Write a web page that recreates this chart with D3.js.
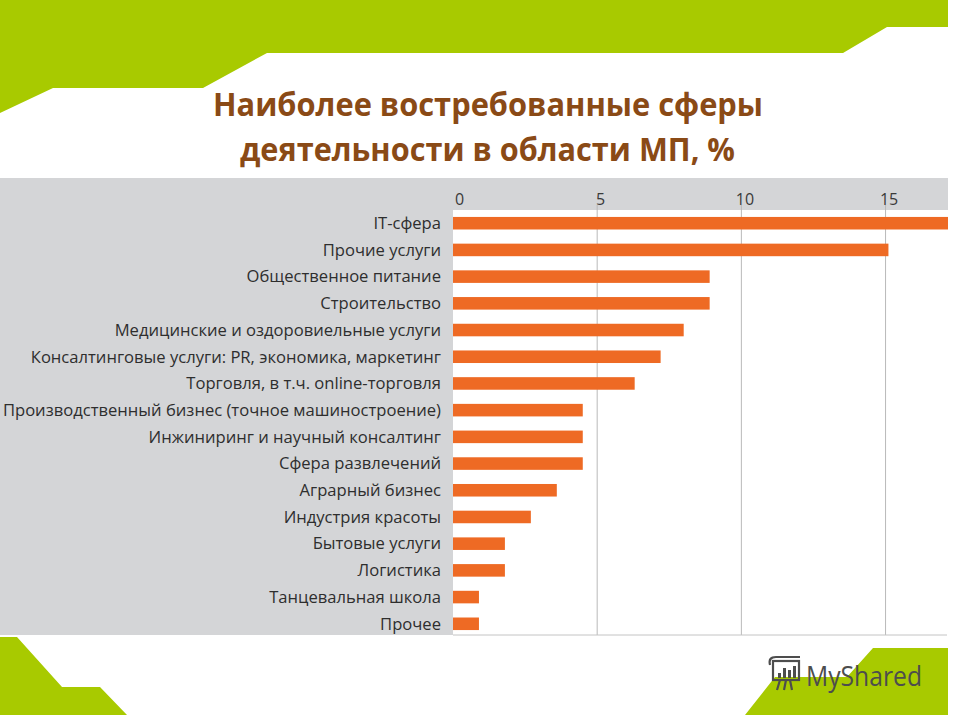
<!DOCTYPE html>
<html><head><meta charset="utf-8">
<script src="https://cdn.jsdelivr.net/npm/d3@7/dist/d3.min.js"></script>
<style>html,body{margin:0;padding:0;background:#fff;}svg{display:block;}</style>
</head><body>
<script>
const titleLines = ["Наиболее востребованные сферы", "деятельности в области МП, %"];
const categories = ["IT-сфера","Прочие услуги","Общественное питание","Строительство","Медицинские и оздоровиельные услуги","Консалтинговые услуги: PR, экономика, маркетинг","Торговля, в т.ч. online-торговля","Производственный бизнес (точное машиностроение)","Инжиниринг и научный консалтинг","Сфера развлечений","Аграрный бизнес","Индустрия красоты","Бытовые услуги","Логистика","Танцевальная школа","Прочее"];
const values = [17.2, 15.1, 8.9, 8.9, 8.0, 7.2, 6.3, 4.5, 4.5, 4.5, 3.6, 2.7, 1.8, 1.8, 0.9, 0.9];
const tickValues = [0, 5, 10, 15];

const W = 960, H = 720;
const svg = d3.select("body").append("svg").attr("width", W).attr("height", H);
const green = "#a8ca00";

// decorative green shapes
svg.append("polygon").attr("fill", green)
  .attr("points", "0,0 948,0 948,27 887,27 843,53 267,53 203,88 53,88 0,113");
svg.append("polygon").attr("fill", green)
  .attr("points", "0,637 17,637 62,687 100,687 127,715 0,715");
svg.append("polygon").attr("fill", green)
  .attr("points", "873,648 948,648 948,715 745,715 775,677 847,677");

// title
const title = svg.append("g").attr("font-family", "'Open Sans', sans-serif").attr("font-weight", 700)
  .attr("fill", "#8a4a16").attr("text-anchor", "middle");
title.append("text").attr("x", 488).attr("y", 116).attr("font-size", 32)
  .attr("textLength", 550).attr("lengthAdjust", "spacingAndGlyphs").text(titleLines[0]);
title.append("text").attr("x", 487.5).attr("y", 161).attr("font-size", 32)
  .attr("textLength", 495).attr("lengthAdjust", "spacingAndGlyphs").text(titleLines[1]);

// chart panel
const panelTop = 178, panelBottom = 635, plotTop = 210, left = 453, right = 949;
svg.append("rect").attr("x", 0).attr("y", panelTop).attr("width", 948).attr("height", panelBottom - panelTop).attr("fill", "#d4d5d7");
svg.append("rect").attr("x", left).attr("y", plotTop).attr("width", 948 - left).attr("height", panelBottom - plotTop).attr("fill", "#ffffff");

const x = d3.scaleLinear().domain([0, 17.2]).range([left, right]);
const y = d3.scaleBand().domain(categories).range([210, 637]).paddingInner(0.53).paddingOuter(0.26);

// grid
svg.append("g").selectAll("line").data(tickValues.filter(d => d > 0)).join("line")
  .attr("x1", d => x(d)).attr("x2", d => x(d)).attr("y1", 205).attr("y2", panelBottom)
  .attr("stroke", "#b9b9b9").attr("stroke-width", 1);
svg.append("line").attr("x1", left).attr("x2", 947).attr("y1", panelBottom).attr("y2", panelBottom)
  .attr("stroke", "#c4c4c4");

// top axis
const axis = d3.axisTop(x).tickValues(tickValues).tickSize(0).tickPadding(0);
const ag = svg.append("g").attr("transform", `translate(3,${205})`).call(axis);
ag.select(".domain").remove();
ag.selectAll("text").attr("font-family", "'Open Sans', sans-serif").attr("font-size", 16).attr("fill", "#3a3a3a");
ag.selectAll(".tick").filter(d => d === 0).select("text").attr("dx", 3);

// bars
svg.append("g").selectAll("rect").data(values).join("rect")
  .attr("x", x(0)).attr("y", (d, i) => y(categories[i]))
  .attr("width", d => Math.min(x(d), 948) - x(0)).attr("height", y.bandwidth())
  .attr("fill", "#ee6a24");

// labels
svg.append("g").selectAll("text").data(categories).join("text")
  .attr("x", 441).attr("y", d => y(d) + y.bandwidth() / 2).attr("dy", "0.35em")
  .attr("text-anchor", "end").attr("font-family", "'Open Sans', sans-serif").attr("font-size", 16.6)
  .attr("fill", "#2e2e2e").text(d => d);

// logo
const logo = svg.append("g").attr("fill", "none").attr("stroke", "#4d4d4d").attr("stroke-width", 2.2);
logo.append("rect").attr("x", 773).attr("y", 661).attr("width", 26).attr("height", 19);
logo.append("path").attr("d", "M770,665 Q768,657 776,657 L800,657 M786,680 L784,690 M790,680 L792,690 M780,680 L777,690");
const bars = svg.append("g").attr("fill", "#4d4d4d");
[[778,673,3,5],[783,668,3,10],[788,670,3,8],[793,666,3,12]].forEach(b => bars.append("rect").attr("x", b[0]).attr("y", b[1]).attr("width", b[2]).attr("height", b[3]));
svg.append("text").attr("x", 806).attr("y", 686).attr("font-family", "'Open Sans', sans-serif")
  .attr("font-size", 27).attr("fill", "#4d4d4d").attr("textLength", 116).attr("lengthAdjust", "spacingAndGlyphs").text("MyShared");
</script>
</body></html>
